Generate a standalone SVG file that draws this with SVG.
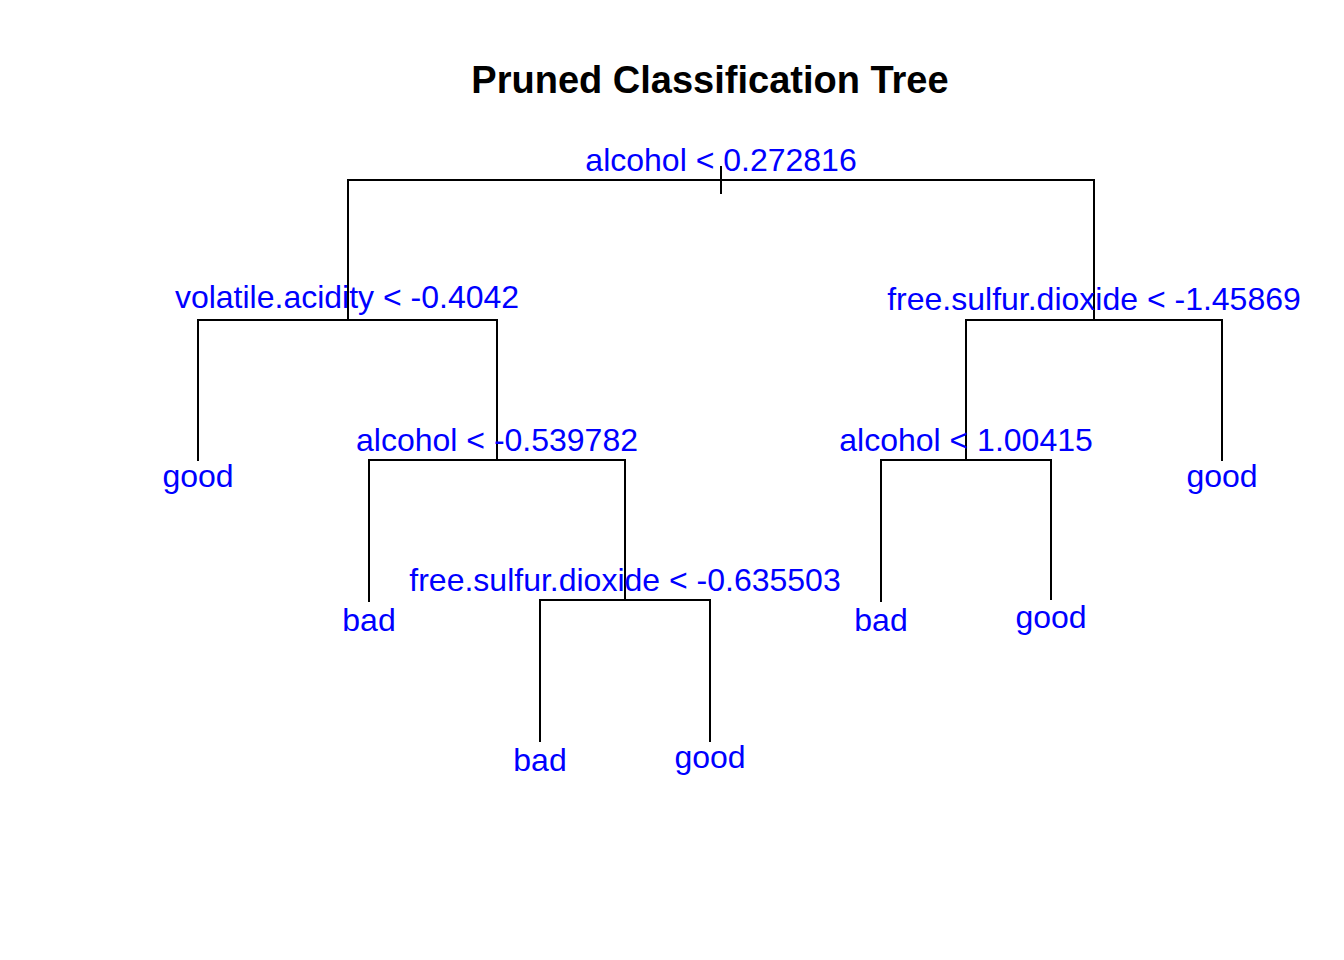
<svg xmlns="http://www.w3.org/2000/svg" width="1344" height="960" viewBox="0 0 1344 960">
<style>
.t{font-family:"Liberation Sans",Arial,sans-serif;font-size:32px;fill:#0000ff;text-anchor:middle}
.title{font-family:"Liberation Sans",Arial,sans-serif;font-size:38px;font-weight:bold;fill:#000;text-anchor:middle}
.e{fill:none;stroke:#000;stroke-width:2}
</style>
<rect width="1344" height="960" fill="#fff"/>
<text class="title" x="710" y="93">Pruned Classification Tree</text>
<g id="connectors">
<path class="e" d="M348,320V180H1094V320"/>
<path class="e" d="M721,166V194"/>
<path class="e" d="M198,461V320H497V460"/>
<path class="e" d="M369,602V460H625V600"/>
<path class="e" d="M540,742V600H710V742"/>
<path class="e" d="M966,460V320H1222V461"/>
<path class="e" d="M881,602V460H1051V600"/>
</g>
<g id="n1"><text class="t" x="721" y="171">alcohol &lt; 0.272816</text></g>
<g id="n2"><text class="t" x="347" y="308">volatile.acidity &lt; -0.4042</text></g>
<g id="n3"><text class="t" x="1094" y="310">free.sulfur.dioxide &lt; -1.45869</text></g>
<g id="n4"><text class="t" x="497" y="451">alcohol &lt; -0.539782</text></g>
<g id="n5"><text class="t" x="625" y="591">free.sulfur.dioxide &lt; -0.635503</text></g>
<g id="n6"><text class="t" x="966" y="451">alcohol &lt; 1.00415</text></g>
<g id="l1"><text class="t" x="198" y="487">good</text></g>
<g id="l2"><text class="t" x="369" y="631">bad</text></g>
<g id="l3"><text class="t" x="540" y="771">bad</text></g>
<g id="l4"><text class="t" x="710" y="768">good</text></g>
<g id="l5"><text class="t" x="881" y="631">bad</text></g>
<g id="l6"><text class="t" x="1051" y="628">good</text></g>
<g id="l7"><text class="t" x="1222" y="487">good</text></g>
</svg>
